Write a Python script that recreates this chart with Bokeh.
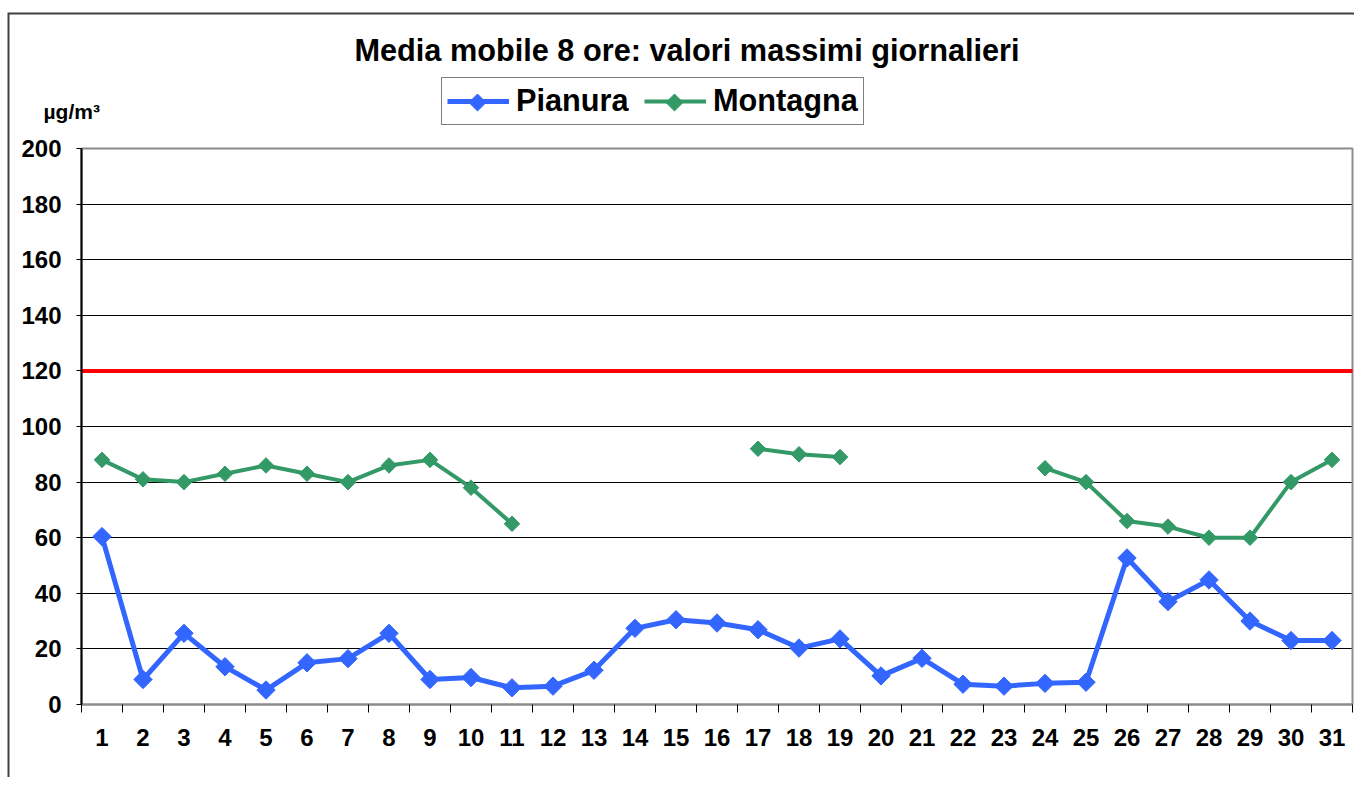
import math
from bokeh.plotting import figure
from bokeh.models import (Range1d, FixedTicker, Legend, LegendItem, Label, BoxAnnotation)
from bokeh.embed import file_html
from bokeh.resources import INLINE

# ---- data ----
days = list(range(1, 32))
pianura = [60.4, 9.0, 25.6, 13.6, 5.2, 15.0, 16.5, 25.6, 9.0, 9.7, 6.0,
           6.6, 12.3, 27.4, 30.5, 29.3, 26.9, 20.3, 23.6, 10.3, 16.6, 7.3,
           6.6, 7.6, 8.0, 52.7, 37.0, 44.8, 30.0, 23.0, 23.0]
nan = float("nan")
montagna = [88, 81, 80, 83, 86, 83, 80, 86, 88, 78, 65,
            nan, nan, nan, nan, nan, 92, 90, 89, nan, nan, nan,
            nan, 85, 80, 66, 64, 60, 60, 80, 88]
limit_value = 120
y_ticks = list(range(0, 201, 20))
title_text = "Media mobile 8 ore: valori massimi giornalieri"
unit_text = "µg/m³"
series_names = ["Pianura", "Montagna"]

FONT = "Liberation Sans"
BLUE = "#3366FF"
GREEN = "#339966"

# ---- layout (pixels) ----
W, H = 1354, 777
PL, PR, PT, PB = 81, 1352, 148, 704          # plot area edges on the canvas
X_LO, X_HI = days[0] - 0.5, days[-1] + 0.5
Y_LO, Y_HI = y_ticks[0], y_ticks[-1]
px_x = (PR - PL) / (X_HI - X_LO)
px_y = (PB - PT) / (Y_HI - Y_LO)
x_range = Range1d(X_LO - PL / px_x, X_HI + (W - PR) / px_x)
y_range = Range1d(Y_LO - (H - PB) / px_y, Y_HI + PT / px_y)


def cx(sx):
    """canvas x pixel -> data x"""
    return x_range.start + sx / px_x


def cy(sy):
    """canvas y pixel (from top) -> data y"""
    return y_range.end - sy / px_y


p = figure(width=W, height=H, x_range=x_range, y_range=y_range,
           output_backend="svg", toolbar_location=None,
           min_border_left=0, min_border_right=0, min_border_top=0, min_border_bottom=0)
p.title.visible = False
p.background_fill_color = "white"
p.border_fill_color = "white"
p.outline_line_color = None

# x axis (drawn at y = 0 inside the canvas-wide frame)
xa = p.xaxis[0]
xa.fixed_location = Y_LO
xa.bounds = (X_LO, X_HI)
xa.ticker = FixedTicker(ticks=days, minor_ticks=[d - 0.5 for d in days] + [X_HI])
xa.major_tick_line_color = None
xa.major_tick_out = 0
xa.major_tick_in = 0
xa.minor_tick_out = 8
xa.minor_tick_in = 0
xa.minor_tick_line_color = "black"
xa.minor_tick_line_width = 1
xa.axis_line_color = "#8c8c8c"
xa.axis_line_width = 2
xa.major_label_text_font = FONT
xa.major_label_text_font_size = "24px"
xa.major_label_text_font_style = "bold"
xa.major_label_text_color = "black"
xa.major_label_standoff = 16

# y axis (drawn at x = 0.5)
ya = p.yaxis[0]
ya.fixed_location = X_LO
ya.bounds = (Y_LO, Y_HI)
ya.ticker = FixedTicker(ticks=y_ticks, minor_ticks=[])
ya.major_tick_out = 5
ya.major_tick_in = 0
ya.major_tick_line_color = "black"
ya.minor_tick_line_color = None
ya.axis_line_color = "black"
ya.axis_line_width = 2
ya.major_label_text_font = FONT
ya.major_label_text_font_size = "24px"
ya.major_label_text_font_style = "bold"
ya.major_label_text_color = "black"
ya.major_label_standoff = 15

p.xgrid.visible = False
g = p.ygrid[0]
if "cross_bounds" in g.properties():
    g.cross_bounds = (X_LO, X_HI)
    g.bounds = (Y_LO, Y_HI)
    g.grid_line_color = "black"
    g.grid_line_width = 1
else:
    g.visible = False
    p.segment(x0=[X_LO] * len(y_ticks), x1=[X_HI] * len(y_ticks), y0=y_ticks, y1=y_ticks,
              line_color="black", line_width=1, level="underlay")

# plot-area border
p.add_layout(BoxAnnotation(left=X_LO, right=X_HI, bottom=Y_LO, top=Y_HI,
                           fill_alpha=0, line_color="#8c8c8c", line_alpha=1, line_width=2,
                           level="underlay"))

# limit line
p.line([X_LO, X_HI], [limit_value, limit_value], line_color="#FF0000", line_width=4)

# series
lp = p.line(days, pianura, line_color=BLUE, line_width=5)
sp = p.scatter(days, pianura, marker="square", angle=math.pi / 4, size=13,
               fill_color=BLUE, line_color=BLUE)
lm = p.line(days, montagna, line_color=GREEN, line_width=4)
sm = p.scatter(days, montagna, marker="square", angle=math.pi / 4, size=11,
               fill_color=GREEN, line_color=GREEN)

# legend
LEG_X, LEG_BOTTOM, LEG_PAD, LEG_GW, LEG_STAND, LEG_LW, LEG_SP = 441, 125, 5, 62, 7, 113, 15
legend = Legend(items=[LegendItem(label=series_names[0], renderers=[lp]),
                       LegendItem(label=series_names[1], renderers=[lm])],
                orientation="horizontal", location=(LEG_X, H - LEG_BOTTOM),
                glyph_width=LEG_GW, glyph_height=30, label_standoff=LEG_STAND,
                spacing=LEG_SP, padding=LEG_PAD, margin=0, label_width=LEG_LW,
                border_line_color="black", border_line_width=1,
                background_fill_alpha=0,
                label_text_font=FONT, label_text_font_size="30.7px",
                label_text_font_style="bold", label_text_color="black")
p.add_layout(legend, "center")

# diamond keys under the legend's line keys (legend background is transparent)
key_cx = [LEG_X + LEG_PAD + LEG_GW / 2,
          LEG_X + LEG_PAD + LEG_GW + LEG_STAND + LEG_LW + LEG_SP + LEG_GW / 2]
key_cy = LEG_BOTTOM - 23
p.scatter([cx(key_cx[0])], [cy(key_cy)], marker="square", angle=math.pi / 4, size=12,
          fill_color=BLUE, line_color=BLUE)
p.scatter([cx(key_cx[1])], [cy(key_cy)], marker="square", angle=math.pi / 4, size=12,
          fill_color=GREEN, line_color=GREEN)

p.add_layout(Label(x=686.5, y=H - 49.5, x_units="screen", y_units="screen", text=title_text,
                   text_align="center", text_baseline="alphabetic", text_font=FONT,
                   text_font_size="30.7px", text_font_style="bold", text_color="black"))
p.add_layout(Label(x=43, y=H - 111, x_units="screen", y_units="screen", text=unit_text,
                   text_align="left", text_baseline="alphabetic", text_font=FONT,
                   text_font_size="21px", text_font_style="bold", text_color="black"))

# outer chart border (only its left and top edges fall inside the window)
p.line([cx(8), cx(8), cx(W)], [cy(H), cy(13), cy(13)],
       line_color="#404040", line_width=2, line_join="miter")

open("out.html", "w").write(file_html(p, INLINE))
